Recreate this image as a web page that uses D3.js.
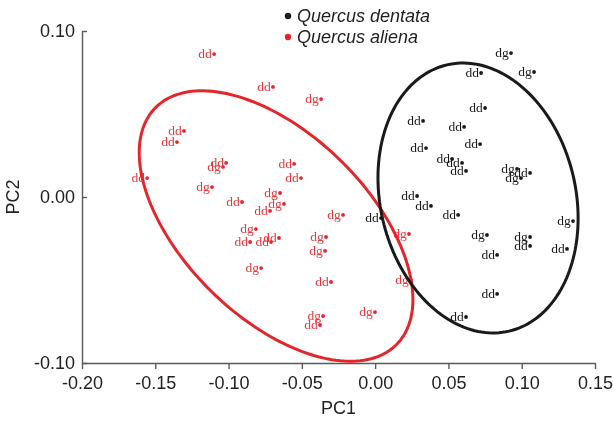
<!DOCTYPE html>
<html>
<head>
<meta charset="utf-8">
<script src="https://cdn.jsdelivr.net/npm/d3@7"></script>
<style>
  html, body { margin: 0; padding: 0; background: #fff; }
  svg { display: block; will-change: transform; }
  text { -webkit-font-smoothing: antialiased; }
</style>
</head>
<body>
<svg id="chart" width="614" height="422"></svg>
<script>
// ---------------- data ----------------
const groups = ["Quercus dentata", "Quercus aliena"];

const xTicks = [-0.20, -0.15, -0.10, -0.05, 0.00, 0.05, 0.10, 0.15];
const xTickLabels = ["-0.20", "-0.15", "-0.10", "-0.05", "0.00", "0.05", "0.10", "0.15"];
const yTicks = [0.10, 0.00, -0.10];
const yTickLabels = ["0.10", "0.00", "-0.10"];

// Quercus aliena (red)
const alienaPC1 = [-0.1099, -0.0697, -0.0369, -0.1304, -0.1352, -0.1556, -0.1017, -0.1038, -0.1113, -0.0553,
                   -0.0506, -0.0908, -0.0649, -0.0622, -0.0717, -0.0219, -0.0813, -0.0656, -0.0853, -0.0710,
                   -0.0335, -0.0342, -0.0778, -0.0301, -0.0355, -0.0376, -0.0001, 0.0231, 0.0245];
const alienaPC2 = [0.0861, 0.0663, 0.0590, 0.0398, 0.0331, 0.0114, 0.0205, 0.0181, 0.0060, 0.0199,
                   0.0114, -0.0030, 0.0024, -0.0042, -0.0084, -0.0108, -0.0193, -0.0247, -0.0271, -0.0271,
                   -0.0241, -0.0325, -0.0428, -0.0512, -0.0717, -0.0771, -0.0693, -0.0223, -0.0500];
const alienaLabel = ["dd", "dd", "dg", "dd", "dd", "dd", "dd", "dg", "dg", "dd",
                     "dd", "dd", "dg", "dg", "dd", "dg", "dg", "dd", "dd", "dd",
                     "dg", "dg", "dg", "dd", "dg", "dd", "dg", "dg", "dg"];

// Quercus dentata (black)
const dentataPC1 = [0.0927, 0.1084, 0.0723, 0.0750, 0.0327, 0.0607, 0.0716, 0.0347, 0.0525, 0.0593,
                    0.0620, 0.0968, 0.1057, 0.0995, 0.0286, 0.0381, 0.0566, 0.0040, 0.1350, 0.0763,
                    0.1057, 0.1057, 0.1309, 0.0832, 0.0832, 0.0620];
const dentataPC2 = [0.0867, 0.0753, 0.0747, 0.0536, 0.0458, 0.0422, 0.0319, 0.0295, 0.0229, 0.0205,
                    0.0157, 0.0169, 0.0145, 0.0114, 0.0006, -0.0054, -0.0108, -0.0127, -0.0145, -0.0229,
                    -0.0241, -0.0295, -0.0313, -0.0349, -0.0584, -0.0723];
const dentataLabel = ["dg", "dg", "dd", "dd", "dd", "dd", "dd", "dd", "dd", "dd",
                      "dd", "dg", "dd", "dg", "dd", "dd", "dd", "dd", "dg", "dg",
                      "dg", "dd", "dd", "dd", "dd", "dd"];

// Confidence ellipses (data units): centre and two conjugate semi-diameters
const ellipseCenterPC1 = [0.0702, -0.0676];
const ellipseCenterPC2 = [-0.0006, -0.0175];
const ellipseAxisA = [[0.0212, -0.0802], [0.0824, -0.0712]];
const ellipseAxisB = [[-0.0649, -0.0134], [-0.0439, -0.0396]];

// ---------------- chart ----------------
const colors = ["#1a1a1a", "#e3262b"];
const labelColors = ["#1a1a1a", "#e8383c"];

const svg = d3.select("#chart");
const x = d3.scaleLinear().domain([-0.20, 0.15]).range([82, 595]);
const y = d3.scaleLinear().domain([-0.10, 0.10]).range([363, 31]);

const axisColor = "#5a5a5a";

// x axis
const xAxis = d3.axisBottom(x).tickValues(xTicks)
  .tickFormat((d, i) => xTickLabels[i]).tickSize(6).tickSizeOuter(0);
const gx = svg.append("g").attr("transform", `translate(0,${y(-0.10)})`).call(xAxis);
gx.select(".domain").attr("stroke", axisColor).attr("stroke-width", 1.4);
gx.selectAll(".tick line").attr("stroke", axisColor).attr("stroke-width", 1.4);
gx.selectAll(".tick text").attr("fill", "#222").attr("font-family", "Liberation Sans, Arial, sans-serif")
  .attr("font-size", 18).attr("dy", "0.95em");

// y axis (ticks pointing inward)
const yAxis = d3.axisLeft(y).tickValues(yTicks)
  .tickFormat((d, i) => yTickLabels[i]).tickSize(-5).tickSizeOuter(0).tickPadding(7);
const gy = svg.append("g").attr("transform", `translate(${x(-0.20)},0)`).call(yAxis);
gy.select(".domain").attr("stroke", axisColor).attr("stroke-width", 1.4);
gy.selectAll(".tick line").attr("stroke", axisColor).attr("stroke-width", 1.4);
gy.selectAll(".tick text").attr("fill", "#222").attr("font-family", "Liberation Sans, Arial, sans-serif")
  .attr("font-size", 18).attr("x", -7);

// axis titles
svg.append("text").attr("x", (x(-0.20) + x(0.15)) / 2).attr("y", 414)
  .attr("text-anchor", "middle").attr("font-family", "Liberation Sans, Arial, sans-serif")
  .attr("font-size", 18).attr("fill", "#222").text("PC1");
svg.append("text").attr("transform", `translate(19,${(y(0.10) + y(-0.10)) / 2}) rotate(-90)`)
  .attr("text-anchor", "middle").attr("font-family", "Liberation Sans, Arial, sans-serif")
  .attr("font-size", 18).attr("fill", "#222").text("PC2");

// points
const seriesPC1 = [dentataPC1, alienaPC1];
const seriesPC2 = [dentataPC2, alienaPC2];
const seriesLabel = [dentataLabel, alienaLabel];

groups.forEach((g, gi) => {
  const pts = seriesPC1[gi].map((v, i) => ({ pc1: v, pc2: seriesPC2[gi][i], lab: seriesLabel[gi][i] }));
  const layer = svg.append("g").attr("opacity", 0.999);
  layer.selectAll("circle").data(pts).join("circle")
    .attr("cx", d => x(d.pc1)).attr("cy", d => y(d.pc2)).attr("r", 1.9)
    .attr("fill", colors[gi]);
  layer.selectAll("text").data(pts).join("text")
    .attr("x", d => x(d.pc1) - 2.2).attr("y", d => y(d.pc2) + 4)
    .attr("text-anchor", "end")
    .attr("font-family", "Liberation Serif, Times New Roman, serif")
    .attr("font-size", 13.5)
    .attr("fill", labelColors[gi])
    .text(d => d.lab);
});

// ellipses (aliena first, dentata on top)
const tSteps = d3.range(0, 181).map(k => k / 180 * 2 * Math.PI);
const line = d3.line().curve(d3.curveLinearClosed);
[1, 0].forEach(gi => {
  const pts = tSteps.map(t => {
    const px = ellipseCenterPC1[gi] + ellipseAxisA[gi][0] * Math.cos(t) + ellipseAxisB[gi][0] * Math.sin(t);
    const py = ellipseCenterPC2[gi] + ellipseAxisA[gi][1] * Math.cos(t) + ellipseAxisB[gi][1] * Math.sin(t);
    return [x(px), y(py)];
  });
  svg.append("path").attr("d", line(pts)).attr("fill", "none")
    .attr("stroke", colors[gi]).attr("stroke-width", 3);
});

// legend
const legend = svg.append("g");
groups.forEach((g, gi) => {
  const ly = 16 + gi * 21;
  legend.append("circle").attr("cx", 288).attr("cy", ly).attr("r", 3.2).attr("fill", colors[gi]);
  legend.append("text").attr("x", 297).attr("y", ly + 6)
    .attr("font-family", "Liberation Sans, Arial, sans-serif").attr("font-style", "italic")
    .attr("font-size", 18).attr("fill", "#222").text(g);
});
</script>
</body>
</html>
